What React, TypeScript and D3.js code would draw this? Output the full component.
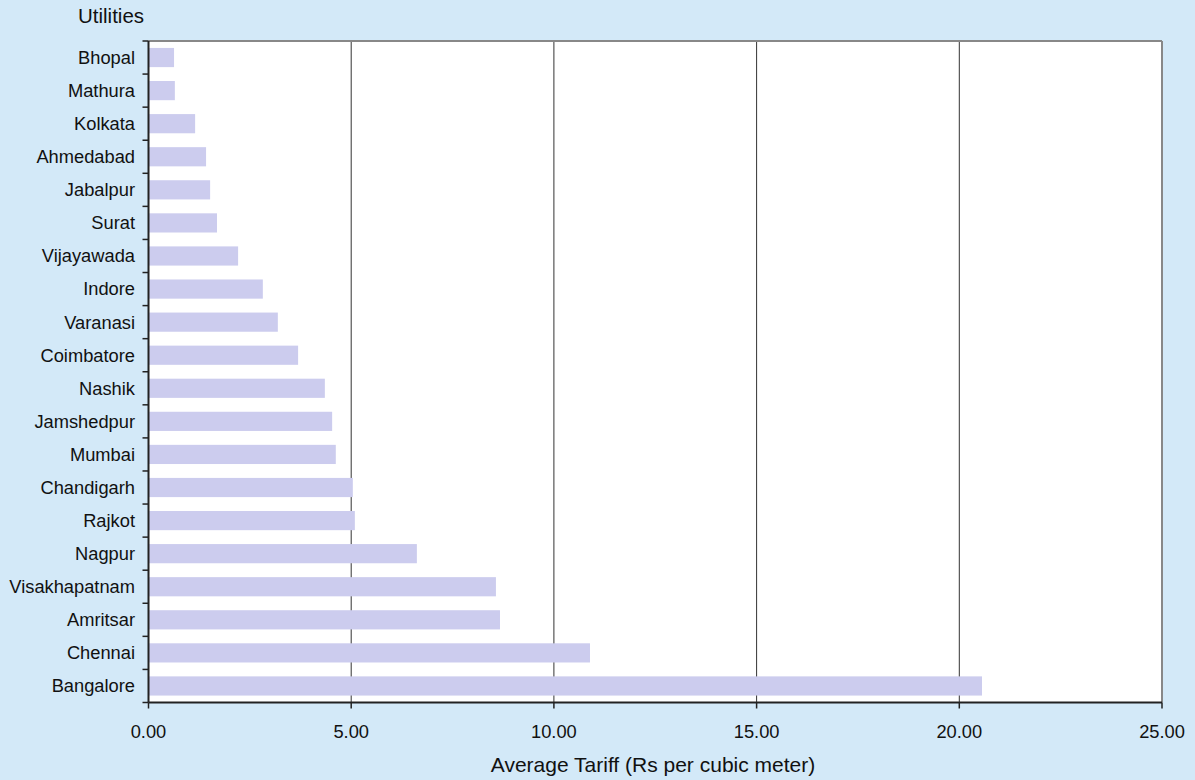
import React from "react";
import * as d3 from "d3";

const categories = ["Bhopal","Mathura","Kolkata","Ahmedabad","Jabalpur","Surat","Vijayawada","Indore","Varanasi","Coimbatore","Nashik","Jamshedpur","Mumbai","Chandigarh","Rajkot","Nagpur","Visakhapatnam","Amritsar","Chennai","Bangalore"];
const values = [0.63,0.65,1.15,1.42,1.52,1.69,2.21,2.82,3.19,3.69,4.35,4.53,4.62,5.04,5.09,6.62,8.57,8.67,10.89,20.56];
const xTicks = [0,5,10,15,20,25];

export default function App() {
  const W = 1195, H = 780;
  const left = 148.5, right = 1162, top = 41, bottom = 702.5;
  const x = d3.scaleLinear().domain([0, 25]).range([left, right]);
  const y = d3.scaleBand().domain(categories).range([top, bottom]).paddingInner(0.42).paddingOuter(0.21);
  const bounds = d3.range(categories.length + 1).map(i => top + (i * (bottom - top)) / categories.length);
  const font = "'Liberation Sans', Arial, sans-serif";
  return (
    <svg width={W} height={H} style={{ position: "absolute", left: 0, top: 0 }} fontFamily={font}>
      <rect width={W} height={H} fill="#D3E9F8" />
      <rect x={left} y={top} width={right - left} height={bottom - top} fill="#fff" />
      {xTicks.slice(1, -1).map(t => (
        <line key={t} x1={x(t)} x2={x(t)} y1={top} y2={bottom} stroke="#333" strokeWidth={1} />
      ))}
      {categories.map((c, i) => (
        <rect key={c} x={x(0)} y={y(c)!} width={x(values[i]) - x(0)} height={y.bandwidth()} fill="#CCCCEE" />
      ))}
      <line x1={left} x2={right} y1={top} y2={top} stroke="#888" strokeWidth={2} />
      <line x1={right} x2={right} y1={top} y2={bottom} stroke="#888" strokeWidth={2} />
      <line x1={left} x2={right} y1={bottom} y2={bottom} stroke="#222" strokeWidth={2} />
      <line x1={left} x2={left} y1={top} y2={bottom} stroke="#222" strokeWidth={2} />
      {bounds.map((b, i) => (
        <line key={i} x1={left - 6} x2={left} y1={b} y2={b} stroke="#222" strokeWidth={1.5} />
      ))}
      {xTicks.map(t => (
        <g key={t}>
          <line x1={x(t)} x2={x(t)} y1={bottom} y2={bottom + 6} stroke="#222" strokeWidth={1.5} />
          <text x={x(t)} y={738} textAnchor="middle" fontSize={18.3} fill="#111">{t.toFixed(2)}</text>
        </g>
      ))}
      {categories.map(c => (
        <text key={c} x={135} y={y(c)! + y.bandwidth() / 2} dy="0.35em" textAnchor="end" fontSize={18.3} fill="#111">{c}</text>
      ))}
      <text x={78} y={23} fontSize={20.5} fill="#111">Utilities</text>
      <text x={653} y={772} textAnchor="middle" fontSize={21} fill="#111">Average Tariff (Rs per cubic meter)</text>
    </svg>
  );
}
